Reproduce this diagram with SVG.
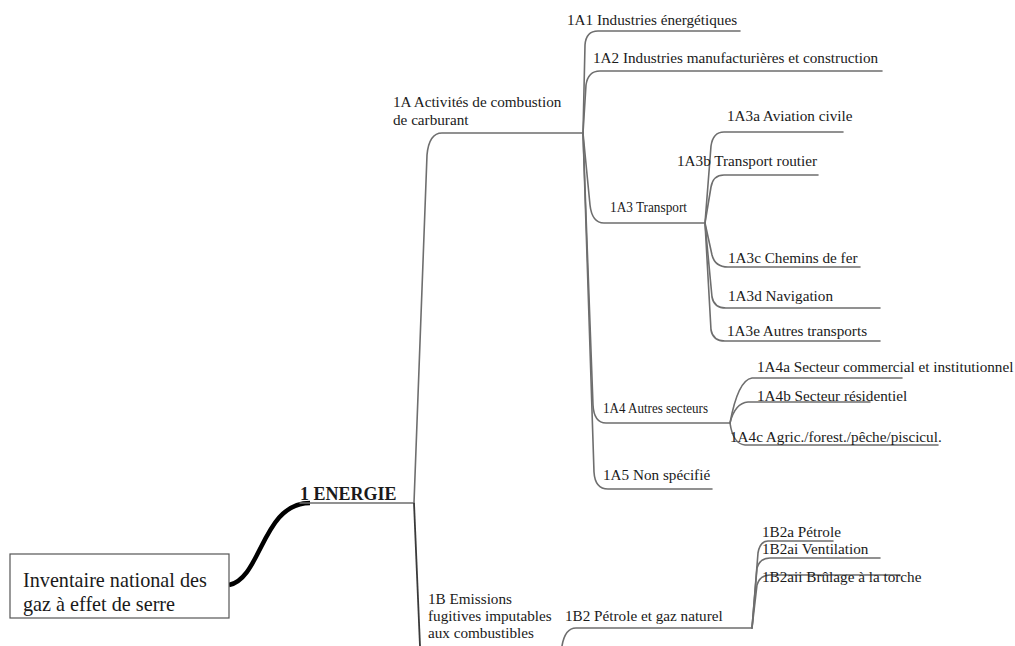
<svg xmlns="http://www.w3.org/2000/svg" width="1015" height="646" viewBox="0 0 1015 646">
<style>
.c{fill:none;stroke:#6e6e6e;stroke-width:1.6;stroke-linejoin:round;stroke-linecap:round}
.d{fill:none;stroke:#3a3a3a;stroke-width:1.8}
</style>
<rect width="1015" height="646" fill="#fff"/>
<g id="connectors">
<path d="M229,585 C262,578 262,503 310,503" fill="none" stroke="#000" stroke-width="4.5"/>
<path class="c" d="M300,503 L414,503"/>
<path class="c" d="M414,503 L427,155 Q429,133 442,133 L583,133"/>
<path class="d" d="M414,503 L420,646"/>
<path class="c" d="M583,133 L585,45 Q586,31 598,31 L740,31"/>
<path class="c" d="M583,133 L586,85 Q588,71 600,71 L882,71"/>
<path class="c" d="M583,133 L590,205 Q592,223 604,223 L705,223"/>
<path class="c" d="M583,133 L593,405 Q594,423 606,423 L730,423"/>
<path class="c" d="M583,133 L594,472 Q595,489 608,489 L712,489"/>
<path class="c" d="M705,223 L711,146 Q713,132 724,132 L843,132"/>
<path class="c" d="M705,223 L711,187 Q713,175 724,175 L818,175"/>
<path class="c" d="M705,223 L712,255 Q715,267 728,267 L860,267"/>
<path class="c" d="M705,223 L712,297 Q714,308 726,308 L880,308"/>
<path class="c" d="M705,223 L711,330 Q713,341 725,341 L880,341"/>
<path class="c" d="M730,423 Q738,380 752,378 L902,378"/>
<path class="c" d="M730,423 Q735,403 748,402 L870,402"/>
<path class="c" d="M730,423 Q733,444 745,445 L938,445"/>
<path class="c" d="M562,646 Q565,628 576,628 L752,628"/>
<path class="c" d="M752,628 L758,553 Q760,541 768,541 L833,541"/>
<path class="c" d="M752,628 L757,568 Q760,558 770,558 L880,558"/>
<path class="c" d="M752,628 L757,585 Q760,575 770,575 L900,575"/>
</g>
<g font-family="Liberation Serif, Times New Roman, serif" fill="#1a1a1a" font-size="15.2">
<g id="root">
<rect x="10" y="554" width="219" height="64" fill="#fff" stroke="#555" stroke-width="1.2"/>
<text x="23" y="587" font-size="20.2">Inventaire national des</text>
<text x="23" y="611" font-size="20.2">gaz à effet de serre</text>
</g>
<g id="n1"><text x="300" y="500" font-size="18" font-weight="bold">1 ENERGIE</text></g>
<g id="n1A"><text x="393" y="107">1A Activités de combustion</text><text x="393" y="125">de carburant</text></g>
<g id="n1A1"><text x="567" y="25">1A1 Industries énergétiques</text></g>
<g id="n1A2"><text x="593" y="63">1A2 Industries manufacturières et construction</text></g>
<g id="n1A3"><text x="610" y="212" textLength="77" lengthAdjust="spacingAndGlyphs">1A3 Transport</text></g>
<g id="n1A3a"><text x="727" y="121">1A3a Aviation civile</text></g>
<g id="n1A3b"><text x="677" y="166">1A3b Transport routier</text></g>
<g id="n1A3c"><text x="728" y="263">1A3c Chemins de fer</text></g>
<g id="n1A3d"><text x="728" y="301">1A3d Navigation</text></g>
<g id="n1A3e"><text x="727" y="336">1A3e Autres transports</text></g>
<g id="n1A4"><text x="603" y="413" textLength="105" lengthAdjust="spacingAndGlyphs">1A4 Autres secteurs</text></g>
<g id="n1A4a"><text x="757" y="372">1A4a Secteur commercial et institutionnel</text></g>
<g id="n1A4b"><text x="757" y="401">1A4b Secteur résidentiel</text></g>
<g id="n1A4c"><text x="730" y="442">1A4c Agric./forest./pêche/piscicul.</text></g>
<g id="n1A5"><text x="603" y="480">1A5 Non spécifié</text></g>
<g id="n1B"><text x="428" y="604">1B Emissions</text><text x="428" y="621">fugitives imputables</text><text x="428" y="638">aux combustibles</text></g>
<g id="n1B2"><text x="565" y="621">1B2 Pétrole et gaz naturel</text></g>
<g id="n1B2a"><text x="762" y="537">1B2a Pétrole</text></g>
<g id="n1B2ai"><text x="762" y="554">1B2ai Ventilation</text></g>
<g id="n1B2aii"><text x="762" y="582">1B2aii Brûlage à la torche</text></g>
</g>
</svg>
